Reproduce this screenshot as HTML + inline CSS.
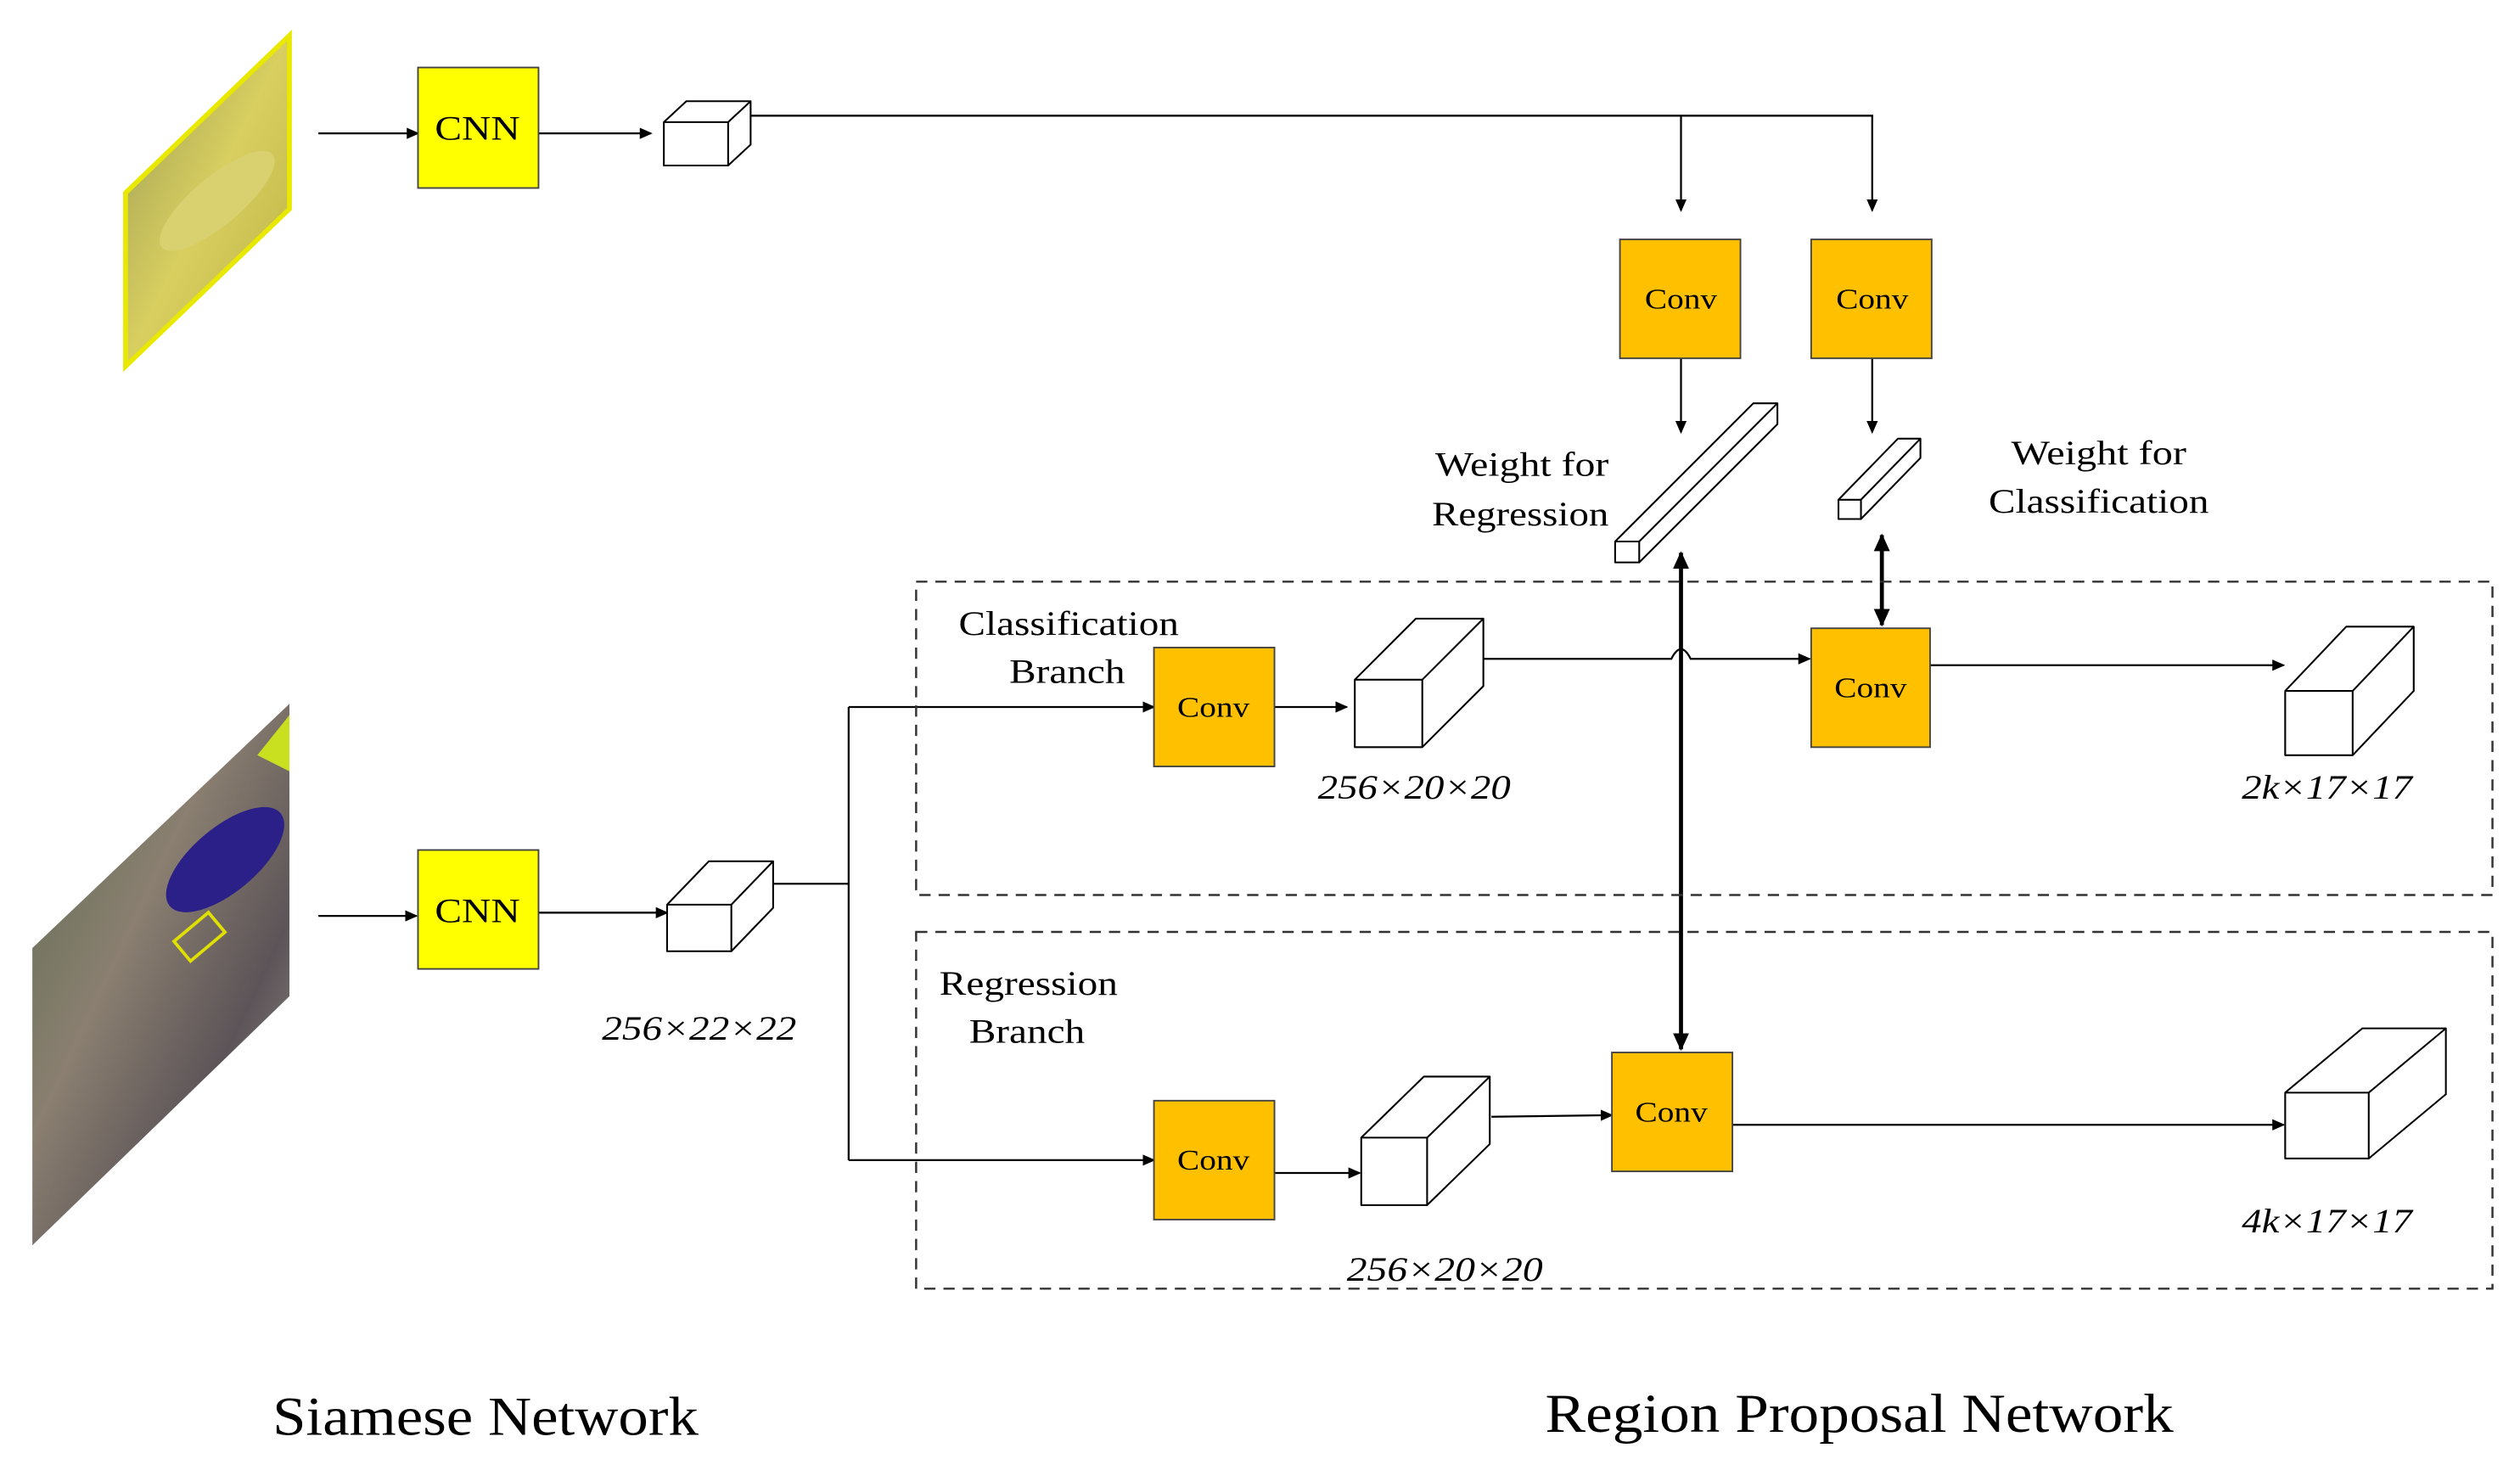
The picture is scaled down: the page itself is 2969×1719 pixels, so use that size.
<!DOCTYPE html>
<html><head><meta charset="utf-8"><style>html,body{margin:0;padding:0;background:#fff}svg{display:block}</style></head><body>
<svg width="2969" height="1719" viewBox="0 0 1568 908" xmlns="http://www.w3.org/2000/svg" font-family="Liberation Serif, serif">
<defs>
<marker id="a" markerWidth="8" markerHeight="8" refX="7" refY="4" orient="auto" markerUnits="userSpaceOnUse"><path d="M0,0.5 L8,4 L0,7.5z" fill="#000"/></marker>
<marker id="b" markerWidth="12" markerHeight="12" refX="10" refY="6" orient="auto-start-reverse" markerUnits="userSpaceOnUse"><path d="M0,1 L11,6 L0,11z" fill="#000"/></marker>
<linearGradient id="g1" x1="0" y1="0" x2="1" y2="1"><stop offset="0" stop-color="#9a9a55"/><stop offset="0.5" stop-color="#d8cf60"/><stop offset="1" stop-color="#b8b040"/></linearGradient>
<linearGradient id="g2" x1="0" y1="0" x2="1" y2="1"><stop offset="0" stop-color="#5a6a50"/><stop offset="0.4" stop-color="#8a7f70"/><stop offset="0.7" stop-color="#5c5458"/><stop offset="1" stop-color="#a09a90"/></linearGradient>
</defs>
<polygon points="78,120 180,22 180,130 78,228" fill="url(#g1)" stroke="#e8e800" stroke-width="3"/>
<ellipse cx="135" cy="125" rx="45" ry="15" transform="rotate(-40 135 125)" fill="#d9d070"/>
<polygon points="20,590 180,438 180,620 20,775" fill="url(#g2)"/>
<ellipse cx="140" cy="535" rx="45" ry="20" transform="rotate(-40 140 535)" fill="#2a2088"/>
<polygon points="160,470 180,445 180,480" fill="#c8e020"/>
<rect x="110" y="575" width="28" height="16" fill="none" stroke="#e0e000" stroke-width="2" transform="rotate(-40 124 583)"/>
<g stroke="#000" stroke-width="1.2" fill="none">
<line x1="198" y1="83" x2="260" y2="83" marker-end="url(#a)"/>
<line x1="335" y1="83" x2="405" y2="83" marker-end="url(#a)"/>
<polyline points="467,72 1165,72 1165,131" marker-end="url(#a)"/>
<line x1="1046" y1="72" x2="1046" y2="131" marker-end="url(#a)"/>
<line x1="1046" y1="223" x2="1046" y2="269" marker-end="url(#a)"/>
<line x1="1165" y1="223" x2="1165" y2="269" marker-end="url(#a)"/>
<line x1="198" y1="570" x2="259" y2="570" marker-end="url(#a)"/>
<line x1="335" y1="568" x2="415" y2="568" marker-end="url(#a)"/>
<line x1="481" y1="550" x2="528" y2="550"/>
<line x1="528" y1="440" x2="528" y2="722"/>
<line x1="528" y1="440" x2="718" y2="440" marker-end="url(#a)"/>
<line x1="528" y1="722" x2="718" y2="722" marker-end="url(#a)"/>
<line x1="793" y1="440" x2="838" y2="440" marker-end="url(#a)"/>
<path d="M922,410 L1040,410 Q1046,398 1052,410 L1126,410" marker-end="url(#a)"/>
<line x1="1201" y1="414" x2="1421" y2="414" marker-end="url(#a)"/>
<line x1="793" y1="730" x2="846" y2="730" marker-end="url(#a)"/>
<line x1="928" y1="695" x2="1003" y2="694" marker-end="url(#a)"/>
<line x1="1078" y1="700" x2="1421" y2="700" marker-end="url(#a)"/>
</g>
<g stroke="#000" stroke-width="2.5">
<line x1="1171" y1="333" x2="1171" y2="389" marker-start="url(#b)" marker-end="url(#b)"/>
<line x1="1046" y1="344" x2="1046" y2="653" marker-start="url(#b)" marker-end="url(#b)"/>
</g>
<g fill="none" stroke="#333" stroke-width="1.3" stroke-dasharray="7,5">
<rect x="570" y="362" width="981" height="195"/>
<rect x="570" y="580" width="981" height="222"/>
</g>
<g stroke="#444" stroke-width="1">
<rect x="260" y="42" width="75" height="75" fill="#ffff00"/>
<rect x="260" y="529" width="75" height="74" fill="#ffff00"/>
<rect x="1008" y="149" width="75" height="74" fill="#ffc000"/>
<rect x="1127" y="149" width="75" height="74" fill="#ffc000"/>
<rect x="718" y="403" width="75" height="74" fill="#ffc000"/>
<rect x="1127" y="391" width="74" height="74" fill="#ffc000"/>
<rect x="718" y="685" width="75" height="74" fill="#ffc000"/>
<rect x="1003" y="655" width="75" height="74" fill="#ffc000"/>
</g>
<g fill="#fff" stroke="#000" stroke-width="1.1" stroke-linejoin="round">
<path d="M413,76 h40 v27 h-40z M413,76 l14,-13 h40 l-14,13z M453,76 l14,-13 v27 l-14,13z"/>
<path d="M415,563 h40 v29 h-40z M415,563 l26,-27 h40 l-26,27z M455,563 l26,-27 v29 l-26,27z"/>
<path d="M843,423 h42 v42 h-42z M843,423 l38,-38 h42 l-38,38z M885,423 l38,-38 v42 l-38,38z"/>
<path d="M1422,430 h42 v40 h-42z M1422,430 l38,-40 h42 l-38,40z M1464,430 l38,-40 v40 l-38,40z"/>
<path d="M847,708 h41 v42 h-41z M847,708 l39,-38 h41 l-39,38z M888,708 l39,-38 v42 l-39,38z"/>
<path d="M1422,680 h52 v41 h-52z M1422,680 l48,-40 h52 l-48,40z M1474,680 l48,-40 v41 l-48,40z"/>
<path d="M1005,337 h15 v13 h-15z M1005,337 l86,-86 h15 l-86,86z M1020,337 l86,-86 v13 l-86,86z"/>
<path d="M1144,311 h14 v12 h-14z M1144,311 l37,-38 h14 l-37,38z M1158,311 l37,-38 v12 l-37,38z"/>
</g>
<g font-size="21" text-anchor="middle" fill="#000" lengthAdjust="spacingAndGlyphs">
<text x="297" y="87" textLength="53" lengthAdjust="spacingAndGlyphs">CNN</text>
<text x="297" y="574" textLength="53" lengthAdjust="spacingAndGlyphs">CNN</text>
<g font-size="18"><text x="1046" y="192" textLength="45" lengthAdjust="spacingAndGlyphs">Conv</text><text x="1165" y="192" textLength="45" lengthAdjust="spacingAndGlyphs">Conv</text><text x="755" y="446" textLength="45" lengthAdjust="spacingAndGlyphs">Conv</text><text x="1164" y="434" textLength="45" lengthAdjust="spacingAndGlyphs">Conv</text><text x="755" y="728" textLength="45" lengthAdjust="spacingAndGlyphs">Conv</text><text x="1040" y="698" textLength="45" lengthAdjust="spacingAndGlyphs">Conv</text></g>
<text x="947" y="296" textLength="108" lengthAdjust="spacingAndGlyphs">Weight for</text><text x="946" y="327" textLength="110" lengthAdjust="spacingAndGlyphs">Regression</text>
<text x="1306" y="289" textLength="109" lengthAdjust="spacingAndGlyphs">Weight for</text><text x="1306" y="319" textLength="137" lengthAdjust="spacingAndGlyphs">Classification</text>
<text x="665" y="395" textLength="137" lengthAdjust="spacingAndGlyphs">Classification</text><text x="664" y="425" textLength="72" lengthAdjust="spacingAndGlyphs">Branch</text>
<text x="640" y="619" textLength="111" lengthAdjust="spacingAndGlyphs">Regression</text><text x="639" y="649" textLength="72" lengthAdjust="spacingAndGlyphs">Branch</text>
<g font-style="italic" font-size="21"><text x="435" y="647" textLength="121" lengthAdjust="spacingAndGlyphs">256×22×22</text><text x="880" y="497" textLength="120" lengthAdjust="spacingAndGlyphs">256×20×20</text><text x="1448" y="497" textLength="106" lengthAdjust="spacingAndGlyphs">2k×17×17</text><text x="899" y="797" textLength="122" lengthAdjust="spacingAndGlyphs">256×20×20</text><text x="1448" y="767" textLength="106" lengthAdjust="spacingAndGlyphs">4k×17×17</text></g>
<text x="302" y="893" font-size="34" textLength="265" lengthAdjust="spacingAndGlyphs">Siamese Network</text>
<text x="1157" y="891" font-size="34" textLength="391" lengthAdjust="spacingAndGlyphs">Region Proposal Network</text>
</g>
</svg>
</body></html>
